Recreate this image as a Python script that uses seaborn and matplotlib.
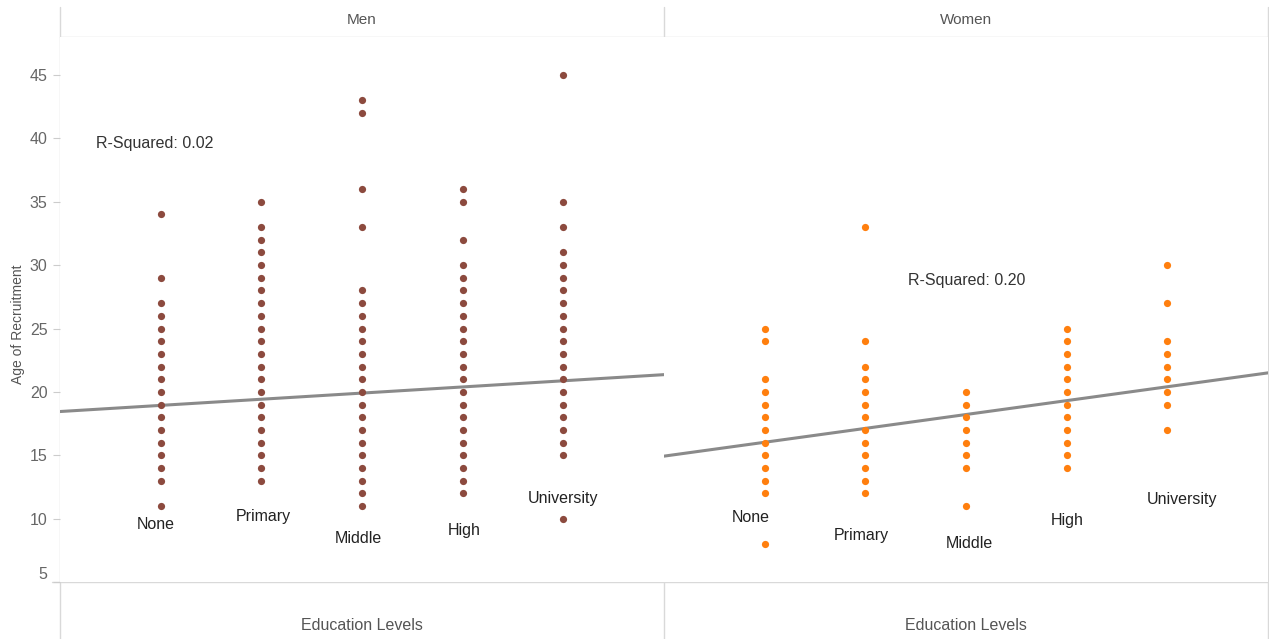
import matplotlib
matplotlib.use("Agg")
import matplotlib.pyplot as plt
from matplotlib.lines import Line2D
import seaborn as sns
import pandas as pd

# Education levels (x categories)
levels = ["None", "Primary", "Middle", "High", "University"]

# Age of recruitment, men, per education level
men_none = [34, 29, 27, 26, 25, 24, 23, 22, 21, 20, 19, 18, 17, 16, 15, 14, 13, 11]
men_primary = [35, 33, 32, 31, 30, 29, 28, 27, 26, 25, 24, 23, 22, 21, 20, 19, 18, 17, 16, 15, 14, 13]
men_middle = [43, 42, 36, 33, 28, 27, 26, 25, 24, 23, 22, 21, 20, 19, 18, 17, 16, 15, 14, 13, 12, 11]
men_high = [36, 35, 32, 30, 29, 28, 27, 26, 25, 24, 23, 22, 21, 20, 19, 18, 17, 16, 15, 14, 13, 12]
men_university = [45, 35, 33, 31, 30, 29, 28, 27, 26, 25, 24, 23, 22, 21, 20, 19, 18, 17, 16, 15, 10]

# Age of recruitment, women, per education level
women_none = [25, 24, 21, 20, 19, 18, 17, 16, 15, 14, 13, 12, 8]
women_primary = [33, 24, 22, 21, 20, 19, 18, 17, 16, 15, 14, 13, 12]
women_middle = [20, 19, 18, 17, 16, 15, 14, 11]
women_high = [25, 24, 23, 22, 21, 20, 19, 18, 17, 16, 15, 14]
women_university = [30, 27, 24, 23, 22, 21, 20, 19, 17]

# Linear trend (value at level position 0, change per level) and R-squared
men_trend = (18.45, 0.485)
women_trend = (14.93, 1.095)
men_r2 = 0.02
women_r2 = 0.20

y_ticks = [5, 10, 15, 20, 25, 30, 35, 40, 45]


def to_frame(groups):
    rows = []
    for lvl, vals in zip(levels, groups):
        rows += [{"level": lvl, "age": v} for v in vals]
    return pd.DataFrame(rows)


men_df = to_frame([men_none, men_primary, men_middle, men_high, men_university])
women_df = to_frame([women_none, women_primary, women_middle, women_high, women_university])

sns.set_theme(style="white")
plt.rcParams["font.family"] = ["Liberation Sans", "DejaVu Sans"]

W, H = 1269, 639
fig = plt.figure(figsize=(W / 100, H / 100), dpi=100)
fig.patch.set_facecolor("white")

ax_left_px, ax_w_px = 60, 604
ax_top_px, ax_bot_px = 37, 582


def fx(px):
    return px / W


def fy(py):
    return 1 - py / H


panels = [
    ("Men", men_df, "#8c4a3e", men_trend, men_r2, (0.36, 39.6),
     {"None": (-0.05, 9.5), "Primary": (0.02, 10.2), "Middle": (-0.04, 8.4),
      "High": (0.02, 9.1), "University": (0.0, 11.6)}),
    ("Women", women_df, "#ff7f0e", women_trend, women_r2, (2.42, 28.8),
     {"None": (-0.14, 10.1), "Primary": (-0.04, 8.7), "Middle": (0.03, 8.0),
      "High": (0.01, 9.85), "University": (0.15, 11.5)}),
]

grey_line = "#d9d9d9"
for i, (title, df, color, trend, r2, r2_pos, label_pos) in enumerate(panels):
    left = ax_left_px + i * ax_w_px
    ax = fig.add_axes([fx(left), fy(ax_bot_px), fx(ax_w_px), fy(ax_top_px) - fy(ax_bot_px)])
    sns.stripplot(data=df, x="level", y="age", order=levels, jitter=False,
                  color=color, size=5.2, linewidth=0, ax=ax, zorder=3)
    ax.set_xlim(-1, 5)
    ax.set_ylim(5, 48)

    # trend line across the whole panel (positions shifted by one level)
    b0, b1 = trend
    ax.axline((-1, b0), slope=b1, color="#8a8a8a", lw=2.2, zorder=2)

    ax.text(r2_pos[0] - 1, r2_pos[1], f"R-Squared: {r2:.2f}", fontsize=11.5,
            color="#333333", ha="left", va="center")
    for j, lvl in enumerate(levels):
        dx, yv = label_pos[lvl]
        ax.text(j + dx, yv, lvl, fontsize=11.5, color="#222222", ha="center", va="center")

    ax.set_xlabel("")
    ax.set_ylabel("")
    ax.set_xticks([])
    for s in ax.spines.values():
        s.set_visible(False)
    if i == 0:
        ax.set_yticks(y_ticks)
        ax.tick_params(axis="y", length=5, width=0.8, color="#cccccc",
                       labelsize=11.5, labelcolor="#666666", pad=4, left=True)
        for lab in ax.get_yticklabels():
            if lab.get_text() == "5":
                lab.set_va("bottom")
    else:
        ax.set_yticks([])

    cx = left + ax_w_px / 2
    fig.text(fx(cx), fy(20), title, fontsize=11, color="#555555", ha="center", va="center")
    fig.text(fx(cx), fy(625), "Education Levels", fontsize=11.5, color="#555555",
             ha="center", va="center")

fig.text(fx(18), fy(324), "Age of Recruitment", fontsize=10, color="#555555",
         rotation=90, ha="center", va="center")

# frame lines around the facets
frame = [
    ((60, 60), (7, 639)),
    ((664, 664), (7, 639)),
    ((1267.5, 1267.5), (7, 639)),
    ((60, 1268), (37, 37)),
    ((52, 1268), (582, 582)),
]
for xs, ys in frame:
    fig.add_artist(Line2D([fx(x) for x in xs], [fy(y) for y in ys],
                          color=grey_line, lw=1.0, transform=fig.transFigure, zorder=0))

fig.savefig("out.png", dpi=100, facecolor="white")
